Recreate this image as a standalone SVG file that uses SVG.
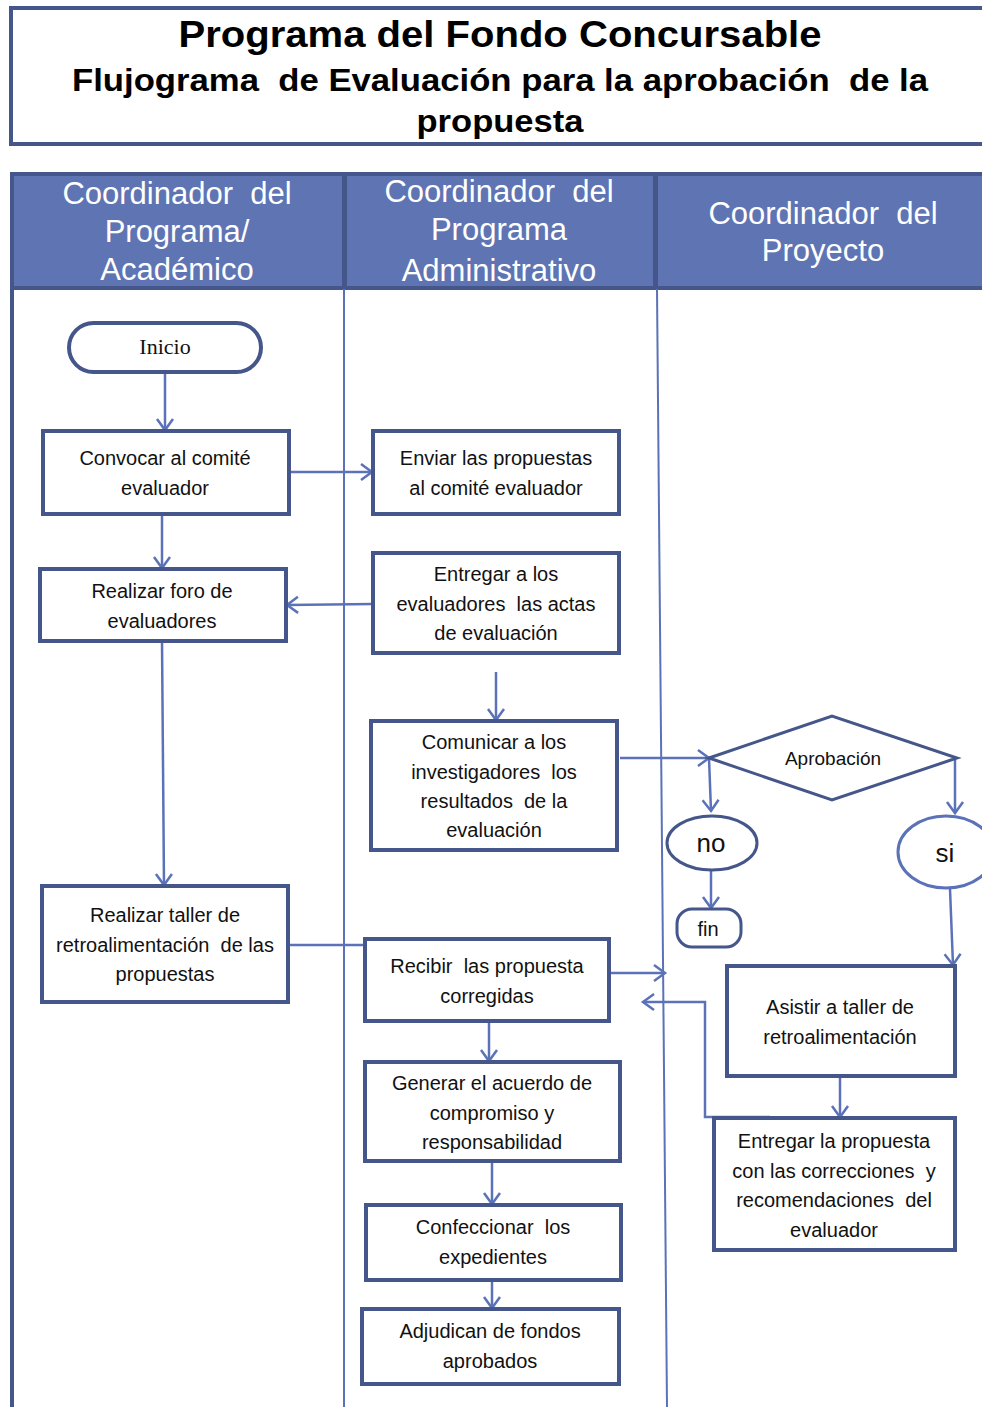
<svg xmlns="http://www.w3.org/2000/svg" width="982" height="1407" viewBox="0 0 982 1407" xml:space="preserve">
<style>
text{white-space:pre}
.bx{fill:#fff;stroke:#45568a;stroke-width:4}
.t{font-family:"Liberation Sans",Arial,sans-serif;font-size:20px;fill:#111;text-anchor:middle}
.h{font-family:"Liberation Sans",Arial,sans-serif;font-size:31px;fill:#fff;text-anchor:middle}
.ti{font-family:"Liberation Sans",Arial,sans-serif;font-weight:bold;fill:#000;text-anchor:middle}
.c{fill:none;stroke:#5b72b8;stroke-width:2.5}
.ca{fill:none;stroke:#5b72b8;stroke-width:2.5;marker-end:url(#ar)}
</style>
<defs>
<marker id="ar" markerUnits="userSpaceOnUse" markerWidth="16" markerHeight="20" viewBox="0 0 16 20" refX="12" refY="10" orient="auto">
<path d="M1,2 L12,10 L1,18" fill="none" stroke="#5b72b8" stroke-width="2.5"/>
</marker>
</defs>
<rect width="982" height="1407" fill="#fff"/>
<g id="title">
<rect x="11" y="8" width="1000" height="136" fill="#fff" stroke="#45568a" stroke-width="4"/>
<text class="ti" x="500" y="47" font-size="36" textLength="643" lengthAdjust="spacingAndGlyphs">Programa del Fondo Concursable</text>
<text class="ti" x="500" y="91" font-size="31" textLength="856" lengthAdjust="spacingAndGlyphs">Flujograma  de Evaluación para la aprobación  de la</text>
<text class="ti" x="500" y="132" font-size="31" textLength="167" lengthAdjust="spacingAndGlyphs">propuesta</text>
</g>
<g id="lanes">
<rect x="12" y="174" width="1000" height="114" fill="#5f74b3" stroke="#45568a" stroke-width="4"/>
<line x1="344.5" y1="174" x2="344.5" y2="289" stroke="#45568a" stroke-width="5"/>
<line x1="655.5" y1="174" x2="655.5" y2="289" stroke="#45568a" stroke-width="5"/>
<line x1="12" y1="288" x2="12" y2="1407" stroke="#45568a" stroke-width="4"/>
<line x1="344" y1="289" x2="344" y2="1407" stroke="#5b72b8" stroke-width="2"/>
<line x1="657" y1="289" x2="667" y2="1407" stroke="#5b72b8" stroke-width="2"/>
<text class="h" x="177" y="204">Coordinador  del</text>
<text class="h" x="177" y="242">Programa/</text>
<text class="h" x="177" y="280">Académico</text>
<text class="h" x="499" y="202">Coordinador  del</text>
<text class="h" x="499" y="240">Programa</text>
<text class="h" x="499" y="281">Administrativo</text>
<text class="h" x="823" y="224">Coordinador  del</text>
<text class="h" x="823" y="261">Proyecto</text>
</g>
<g id="connectors">
<path class="ca" d="M165,373 V430"/>
<path class="ca" d="M289,472 H372"/>
<path class="ca" d="M162,514 V568"/>
<path class="ca" d="M373,604 L287,605"/>
<path class="ca" d="M496,672 V720"/>
<path class="ca" d="M162,641 L164,885"/>
<path class="ca" d="M620,758 H709"/>
<path class="ca" d="M709,758 L711,811"/>
<path class="ca" d="M711,870 V908"/>
<path class="ca" d="M955,760 V813"/>
<path class="ca" d="M950,889 L953,965"/>
<path class="c" d="M288,945 H365"/>
<path class="ca" d="M609,973 H665"/>
<path class="ca" d="M770,1117 H705 V1002 H643"/>
<path class="ca" d="M840,1076 V1117"/>
<path class="ca" d="M489,1021 V1061"/>
<path class="ca" d="M492,1161 V1204"/>
<path class="ca" d="M492,1280 V1308"/>
</g>
<g id="inicio">
<rect x="69" y="323" width="192" height="49" rx="24.5" class="bx"/>
<text x="165" y="354" font-family="'Liberation Serif',serif" font-size="22" fill="#111" text-anchor="middle">Inicio</text>
</g>
<g id="convocar">
<rect x="43" y="431" width="246" height="83" class="bx"/>
<text class="t" x="165" y="465">Convocar al comité</text>
<text class="t" x="165" y="495">evaluador</text>
</g>
<g id="enviar">
<rect x="373" y="431" width="246" height="83" class="bx"/>
<text class="t" x="496" y="465">Enviar las propuestas</text>
<text class="t" x="496" y="495">al comité evaluador</text>
</g>
<g id="foro">
<rect x="40" y="569" width="246" height="72" class="bx"/>
<text class="t" x="162" y="598">Realizar foro de</text>
<text class="t" x="162" y="628">evaluadores</text>
</g>
<g id="entregar-actas">
<rect x="373" y="553" width="246" height="100" class="bx"/>
<text class="t" x="496" y="581">Entregar a los</text>
<text class="t" x="496" y="611">evaluadores  las actas</text>
<text class="t" x="496" y="640">de evaluación</text>
</g>
<g id="comunicar">
<rect x="371" y="721" width="246" height="129" class="bx"/>
<text class="t" x="494" y="749">Comunicar a los</text>
<text class="t" x="494" y="779">investigadores  los</text>
<text class="t" x="494" y="808">resultados  de la</text>
<text class="t" x="494" y="837">evaluación</text>
</g>
<g id="aprobacion">
<polygon points="709,758 832,716 957,758 832,800" fill="#fff" stroke="#45568a" stroke-width="3"/>
<text class="t" x="833" y="765" style="font-size:19px">Aprobación</text>
</g>
<g id="no">
<ellipse cx="712" cy="843" rx="45" ry="27" fill="#fff" stroke="#45568a" stroke-width="3"/>
<text class="t" x="711" y="852" style="font-size:26px">no</text>
</g>
<g id="si">
<ellipse cx="946" cy="852" rx="48" ry="36" fill="#fff" stroke="#5b72b8" stroke-width="3"/>
<text class="t" x="945" y="862" style="font-size:26px">si</text>
</g>
<g id="fin">
<rect x="677" y="909" width="64" height="38" rx="15" fill="#fff" stroke="#45568a" stroke-width="3"/>
<text class="t" x="708" y="936">fin</text>
</g>
<g id="taller">
<rect x="42" y="886" width="246" height="116" class="bx"/>
<text class="t" x="165" y="922">Realizar taller de</text>
<text class="t" x="165" y="952">retroalimentación  de las</text>
<text class="t" x="165" y="981">propuestas</text>
</g>
<g id="recibir">
<rect x="365" y="939" width="244" height="82" class="bx"/>
<text class="t" x="487" y="973">Recibir  las propuesta</text>
<text class="t" x="487" y="1003">corregidas</text>
</g>
<g id="asistir">
<rect x="727" y="966" width="228" height="110" class="bx"/>
<text class="t" x="840" y="1014">Asistir a taller de</text>
<text class="t" x="840" y="1044">retroalimentación</text>
</g>
<g id="entregar-propuesta">
<rect x="714" y="1118" width="241" height="132" class="bx"/>
<text class="t" x="834" y="1148">Entregar la propuesta</text>
<text class="t" x="834" y="1178">con las correcciones  y</text>
<text class="t" x="834" y="1207">recomendaciones  del</text>
<text class="t" x="834" y="1237">evaluador</text>
</g>
<g id="generar">
<rect x="365" y="1062" width="255" height="99" class="bx"/>
<text class="t" x="492" y="1090">Generar el acuerdo de</text>
<text class="t" x="492" y="1120">compromiso y</text>
<text class="t" x="492" y="1149">responsabilidad</text>
</g>
<g id="confeccionar">
<rect x="366" y="1205" width="255" height="75" class="bx"/>
<text class="t" x="493" y="1234">Confeccionar  los</text>
<text class="t" x="493" y="1264">expedientes</text>
</g>
<g id="adjudican">
<rect x="362" y="1309" width="257" height="75" class="bx"/>
<text class="t" x="490" y="1338">Adjudican de fondos</text>
<text class="t" x="490" y="1368">aprobados</text>
</g>
</svg>
